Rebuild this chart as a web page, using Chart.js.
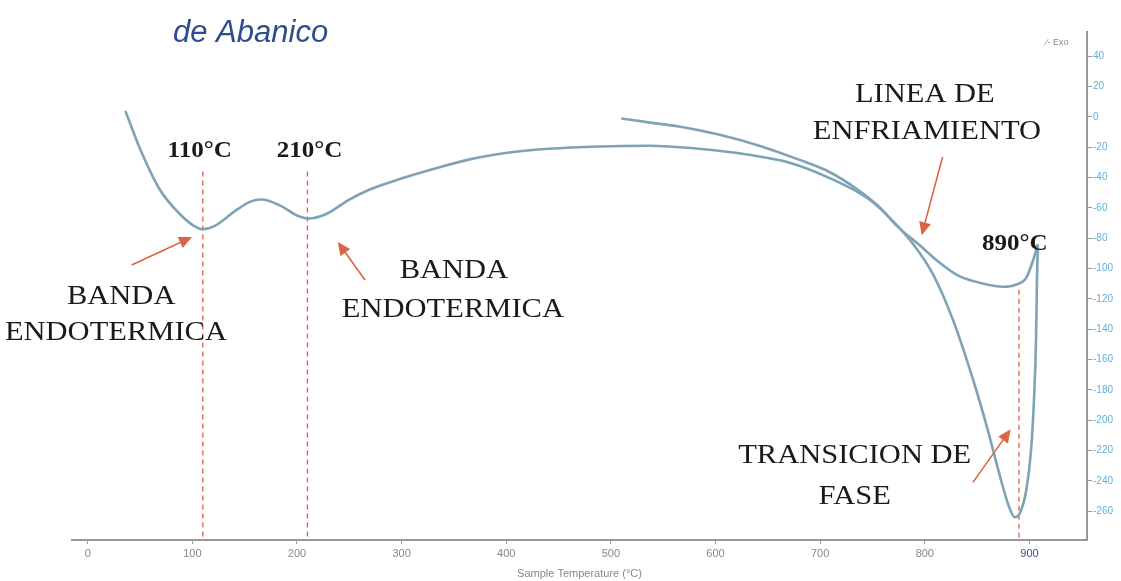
<!DOCTYPE html>
<html>
<head>
<meta charset="utf-8">
<script src="https://cdn.jsdelivr.net/npm/chart.js@4.4.1/dist/chart.umd.min.js"></script>
<style>
  body { margin: 0; background: #fff; }
  #wrap { width: 1121px; height: 581px; position: relative; }
</style>
</head>
<body>
<div id="wrap"><canvas id="dta"></canvas></div>
<script>
// curva de calentamiento (temperatura °C, señal)
const heatTemp = [36, 50, 69, 88, 102, 110, 121, 141, 155, 166, 184, 200, 211, 228, 250, 269, 298, 327, 365, 403, 441, 489, 536, 584, 632, 670, 708, 746, 770, 789, 808, 827, 846, 860, 873, 881, 886, 891, 897, 901.5, 904.3, 906.3, 907.2, 908];
const heatSignal = [4, -21, -48, -64, -72, -74, -72, -62, -56, -54.5, -58.5, -65, -67, -64, -54.5, -48, -41, -35, -28, -23.5, -21, -19.5, -19, -21, -25, -30, -40, -54, -69, -84, -104, -134, -173, -206, -240, -258, -264, -261, -246, -220, -187, -147, -107, -84];

// curva de enfriamiento
const coolTemp = [510, 536, 565, 603, 641, 679, 708, 736, 756, 775, 794, 813, 832, 856, 875, 887, 897, 903, 908];
const coolSignal = [-1, -3.6, -6.3, -11.6, -18.8, -28, -36, -48, -59, -73, -84, -95.5, -104.7, -110, -112, -110.7, -106, -95.5, -84];

// lineas de referencia
const markerTemps = [110, 210, 890];
const markerTops = [-36, -36, -114];

const xTicks = [0, 100, 200, 300, 400, 500, 600, 700, 800, 900];
const yTicks = [40, 20, 0, -20, -40, -60, -80, -100, -120, -140, -160, -180, -200, -220, -240, -260];

// textos y flechas (en unidades del gráfico)
const notes = [
  { text: "110°C", x: 107, y: -21, bold: true },
  { text: "210°C", x: 212, y: -21, bold: true },
  { text: "890°C", x: 886, y: -82.5, bold: true },
  { text: "BANDA", x: 32, y: -117 },
  { text: "ENDOTERMICA", x: 27, y: -141 },
  { text: "BANDA", x: 350, y: -100 },
  { text: "ENDOTERMICA", x: 349, y: -126 },
  { text: "LINEA DE", x: 800, y: 16 },
  { text: "ENFRIAMIENTO", x: 802, y: -8.6 },
  { text: "TRANSICION DE", x: 733, y: -222 },
  { text: "FASE", x: 733, y: -249 }
];
const arrows = [
  { from: [42, -97.7], to: [99.7, -79.2] },
  { from: [265, -107.5], to: [239, -82.5] },
  { from: [817, -26.4], to: [797, -78] },
  { from: [846, -241], to: [882, -206] }
];

const curveColor = "#7fa3b6";
const redColor = "#dd6443";

const datasets = [
  {
    data: heatTemp.map((t, i) => ({ x: t, y: heatSignal[i] })),
    showLine: true, borderColor: curveColor, borderWidth: 2.6,
    pointRadius: 0, cubicInterpolationMode: "monotone"
  },
  {
    data: coolTemp.map((t, i) => ({ x: t, y: coolSignal[i] })),
    showLine: true, borderColor: curveColor, borderWidth: 2.6,
    pointRadius: 0, cubicInterpolationMode: "monotone"
  }
];
markerTemps.forEach((t, i) => {
  datasets.push({
    data: [{ x: t, y: markerTops[i] }, { x: t, y: -279 }],
    showLine: true, borderColor: redColor, borderWidth: 1.3,
    borderDash: [5, 4], pointRadius: 0
  });
});

const notesPlugin = {
  id: "notes",
  afterDatasetsDraw(chart) {
    const ctx = chart.ctx;
    const xs = chart.scales.x, ys = chart.scales.y;
    ctx.save();
    // titulo cortado
    ctx.font = "italic 31px 'Liberation Sans'";
    ctx.fillStyle = "#2f4c8e";
    ctx.textAlign = "left";
    ctx.textBaseline = "alphabetic";
    ctx.fillText("de Abanico", 173, 42);

    ctx.font = "9px 'Liberation Sans'";
    ctx.fillStyle = "#888";
    ctx.fillText("⁄- Exo", 1046, 45);

    ctx.fillStyle = "#1a1a1a";
    ctx.textAlign = "center";
    ctx.textBaseline = "middle";
    notes.forEach(n => {
      ctx.font = n.bold ? "bold 23px 'Liberation Serif'" : "28px 'Liberation Serif'";
      // el texto del original está algo estirado a lo ancho
      ctx.save();
      ctx.translate(xs.getPixelForValue(n.x), ys.getPixelForValue(n.y) + 2);
      ctx.scale(1.09, 1);
      ctx.fillText(n.text, 0, 0);
      ctx.restore();
    });

    ctx.strokeStyle = redColor;
    ctx.fillStyle = redColor;
    ctx.lineWidth = 1.6;
    arrows.forEach(a => {
      const x0 = xs.getPixelForValue(a.from[0]), y0 = ys.getPixelForValue(a.from[1]);
      const x1 = xs.getPixelForValue(a.to[0]), y1 = ys.getPixelForValue(a.to[1]);
      const ang = Math.atan2(y1 - y0, x1 - x0);
      const hl = 13, hw = 6;
      const bx = x1 - hl * Math.cos(ang), by = y1 - hl * Math.sin(ang);
      ctx.beginPath();
      ctx.moveTo(x0, y0);
      ctx.lineTo(bx, by);
      ctx.stroke();
      ctx.beginPath();
      ctx.moveTo(x1, y1);
      ctx.lineTo(bx + hw * Math.sin(ang), by - hw * Math.cos(ang));
      ctx.lineTo(bx - hw * Math.sin(ang), by + hw * Math.cos(ang));
      ctx.closePath();
      ctx.fill();
    });
    ctx.restore();
  }
};

new Chart(document.getElementById("dta"), {
  type: "scatter",
  data: { datasets: datasets },
  options: {
    responsive: true,
    maintainAspectRatio: false,
    animation: false,
    layout: { padding: { left: 72, top: 32, right: 0, bottom: 0 } },
    plugins: { legend: { display: false }, tooltip: { enabled: false } },
    scales: {
      x: {
        type: "linear", position: "bottom", min: -15, max: 955,
        afterBuildTicks: s => { s.ticks = xTicks.map(v => ({ value: v })); },
        afterFit: s => { s.height = 41; },
        grid: { drawOnChartArea: false, tickLength: 4, color: "#999" },
        border: { color: "#999", width: 2 },
        ticks: {
          color: c => c.tick && c.tick.value === 900 ? "#3d4f92" : "#888",
          font: { size: 11, family: "'Liberation Sans'" }, padding: 3
        },
        title: {
          display: true, text: "Sample Temperature (°C)", color: "#888",
          font: { size: 11, family: "'Liberation Sans'" }, padding: 0
        }
      },
      y: {
        type: "linear", position: "right", min: -279, max: 56,
        afterBuildTicks: s => { s.ticks = yTicks.map(v => ({ value: v })); },
        afterFit: s => { s.width = 34; },
        grid: { drawOnChartArea: false, tickLength: 5, color: "#999" },
        border: { color: "#999", width: 2 },
        ticks: { color: "#62afd8", font: { size: 10, family: "'Liberation Sans'" }, padding: 1 }
      }
    }
  },
  plugins: [notesPlugin]
});
</script>
</body>
</html>
